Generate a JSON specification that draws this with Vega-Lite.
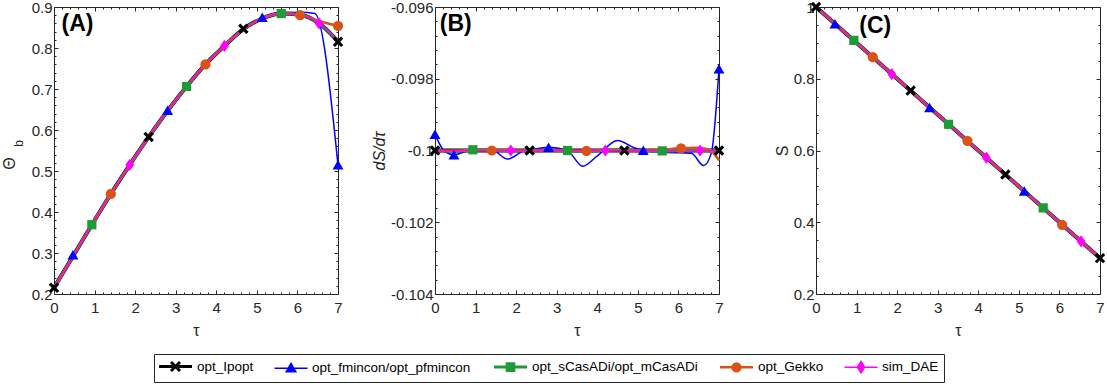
{
  "$schema": "https://vega.github.io/schema/vega-lite/v6.json",
  "background": "white",
  "padding": {"left": 0, "top": -2, "right": 0, "bottom": 0},
  "bounds": "flush",
  "spacing": 97,
  "config": {
    "font": "Liberation Sans",
    "view": {"stroke": "#262626", "strokeWidth": 1},
    "axis": {
      "domain": false, "grid": false, "ticks": true, "tickColor": "#262626", "tickWidth": 1,
      "labelFont": "Liberation Sans", "labelFontSize": 15, "labelColor": "#262626",
      "titleFont": "Liberation Sans", "titleFontSize": 16, "titleFontWeight": "normal", "titleColor": "#262626",
      "labelOverlap": false, "labelFlush": false, "labelBound": false
    },
    "legend": {"orient": "none", "legendX": 100, "legendY": 347, "direction": "horizontal", "symbolSize": 144, "symbolStrokeWidth": 2.5, "labelOffset": 23, "columnPadding": 17, "padding": 5, "strokeColor": "#262626", "fillColor": "#ffffff", "labelFont": "Liberation Sans", "labelFontSize": 13.5, "labelColor": "#000000", "labelLimit": 400, "symbolOpacity": 1}
  },
  "datasets": {
    "lA": [
      {"s":"opt_Ipopt","t":0,"v":0.215},{"s":"opt_Ipopt","t":0.467,"v":0.292},{"s":"opt_Ipopt","t":0.933,"v":0.369},{"s":"opt_Ipopt","t":1.4,"v":0.444},{"s":"opt_Ipopt","t":1.867,"v":0.515},{"s":"opt_Ipopt","t":2.333,"v":0.583},{"s":"opt_Ipopt","t":2.8,"v":0.647},{"s":"opt_Ipopt","t":3.267,"v":0.706},{"s":"opt_Ipopt","t":3.733,"v":0.76},{"s":"opt_Ipopt","t":4.2,"v":0.805},{"s":"opt_Ipopt","t":4.667,"v":0.846},{"s":"opt_Ipopt","t":5.133,"v":0.872},{"s":"opt_Ipopt","t":5.6,"v":0.884},{"s":"opt_Ipopt","t":6.067,"v":0.881},{"s":"opt_Ipopt","t":6.533,"v":0.86},{"s":"opt_Ipopt","t":7,"v":0.816},
      {"s":"opt_fmincon/opt_pfmincon","t":0,"v":0.215},{"s":"opt_fmincon/opt_pfmincon","t":0.467,"v":0.292},{"s":"opt_fmincon/opt_pfmincon","t":0.933,"v":0.369},{"s":"opt_fmincon/opt_pfmincon","t":1.4,"v":0.444},{"s":"opt_fmincon/opt_pfmincon","t":1.867,"v":0.515},{"s":"opt_fmincon/opt_pfmincon","t":2.333,"v":0.583},{"s":"opt_fmincon/opt_pfmincon","t":2.8,"v":0.647},{"s":"opt_fmincon/opt_pfmincon","t":3.267,"v":0.706},{"s":"opt_fmincon/opt_pfmincon","t":3.733,"v":0.76},{"s":"opt_fmincon/opt_pfmincon","t":4.2,"v":0.805},{"s":"opt_fmincon/opt_pfmincon","t":4.667,"v":0.846},{"s":"opt_fmincon/opt_pfmincon","t":5.133,"v":0.873},{"s":"opt_fmincon/opt_pfmincon","t":5.6,"v":0.886},{"s":"opt_fmincon/opt_pfmincon","t":6.067,"v":0.887},{"s":"opt_fmincon/opt_pfmincon","t":6.43,"v":0.884},{"s":"opt_fmincon/opt_pfmincon","t":7,"v":0.515},
      {"s":"opt_sCasADi/opt_mCasADi","t":0,"v":0.215},{"s":"opt_sCasADi/opt_mCasADi","t":0.467,"v":0.292},{"s":"opt_sCasADi/opt_mCasADi","t":0.933,"v":0.369},{"s":"opt_sCasADi/opt_mCasADi","t":1.4,"v":0.444},{"s":"opt_sCasADi/opt_mCasADi","t":1.867,"v":0.515},{"s":"opt_sCasADi/opt_mCasADi","t":2.333,"v":0.583},{"s":"opt_sCasADi/opt_mCasADi","t":2.8,"v":0.647},{"s":"opt_sCasADi/opt_mCasADi","t":3.267,"v":0.706},{"s":"opt_sCasADi/opt_mCasADi","t":3.733,"v":0.76},{"s":"opt_sCasADi/opt_mCasADi","t":4.2,"v":0.805},{"s":"opt_sCasADi/opt_mCasADi","t":4.667,"v":0.846},{"s":"opt_sCasADi/opt_mCasADi","t":5.133,"v":0.872},{"s":"opt_sCasADi/opt_mCasADi","t":5.6,"v":0.884},{"s":"opt_sCasADi/opt_mCasADi","t":6.067,"v":0.881},{"s":"opt_sCasADi/opt_mCasADi","t":6.533,"v":0.86},{"s":"opt_sCasADi/opt_mCasADi","t":7,"v":0.817},
      {"s":"opt_Gekko","t":0,"v":0.215},{"s":"opt_Gekko","t":0.467,"v":0.292},{"s":"opt_Gekko","t":0.933,"v":0.369},{"s":"opt_Gekko","t":1.4,"v":0.444},{"s":"opt_Gekko","t":1.867,"v":0.515},{"s":"opt_Gekko","t":2.333,"v":0.583},{"s":"opt_Gekko","t":2.8,"v":0.647},{"s":"opt_Gekko","t":3.267,"v":0.706},{"s":"opt_Gekko","t":3.733,"v":0.76},{"s":"opt_Gekko","t":4.2,"v":0.805},{"s":"opt_Gekko","t":4.667,"v":0.846},{"s":"opt_Gekko","t":5.133,"v":0.872},{"s":"opt_Gekko","t":5.6,"v":0.884},{"s":"opt_Gekko","t":6.067,"v":0.881},{"s":"opt_Gekko","t":6.533,"v":0.866},{"s":"opt_Gekko","t":7,"v":0.854},
      {"s":"sim_DAE","t":0,"v":0.215},{"s":"sim_DAE","t":0.467,"v":0.292},{"s":"sim_DAE","t":0.933,"v":0.369},{"s":"sim_DAE","t":1.4,"v":0.444},{"s":"sim_DAE","t":1.867,"v":0.515},{"s":"sim_DAE","t":2.333,"v":0.583},{"s":"sim_DAE","t":2.8,"v":0.647},{"s":"sim_DAE","t":3.267,"v":0.706},{"s":"sim_DAE","t":3.733,"v":0.76},{"s":"sim_DAE","t":4.2,"v":0.805},{"s":"sim_DAE","t":4.667,"v":0.846},{"s":"sim_DAE","t":5.133,"v":0.872},{"s":"sim_DAE","t":5.6,"v":0.884},{"s":"sim_DAE","t":6.067,"v":0.881},{"s":"sim_DAE","t":6.533,"v":0.86},{"s":"sim_DAE","t":7,"v":0.817}
    ],
    "mA": [
      {"s":"opt_Ipopt","t":0,"v":0.215},{"s":"opt_Ipopt","t":2.333,"v":0.583},{"s":"opt_Ipopt","t":4.667,"v":0.847},{"s":"opt_Ipopt","t":7,"v":0.815},
      {"s":"opt_fmincon/opt_pfmincon","t":0.467,"v":0.296},{"s":"opt_fmincon/opt_pfmincon","t":2.8,"v":0.648},{"s":"opt_fmincon/opt_pfmincon","t":5.133,"v":0.875},{"s":"opt_fmincon/opt_pfmincon","t":7,"v":0.515},
      {"s":"opt_sCasADi/opt_mCasADi","t":0.933,"v":0.369},{"s":"opt_sCasADi/opt_mCasADi","t":3.267,"v":0.706},{"s":"opt_sCasADi/opt_mCasADi","t":5.6,"v":0.884},
      {"s":"opt_Gekko","t":1.4,"v":0.444},{"s":"opt_Gekko","t":3.733,"v":0.76},{"s":"opt_Gekko","t":6.067,"v":0.88},{"s":"opt_Gekko","t":7,"v":0.854},
      {"s":"sim_DAE","t":1.867,"v":0.515},{"s":"sim_DAE","t":4.2,"v":0.805},{"s":"sim_DAE","t":6.533,"v":0.86}
    ],
    "lB": [
      {"s":"opt_Ipopt","t":0,"v":-0.1},{"s":"opt_Ipopt","t":7,"v":-0.1},
      {"s":"opt_fmincon/opt_pfmincon","t":0,"v":-0.09955},{"s":"opt_fmincon/opt_pfmincon","t":0.25,"v":-0.10004},{"s":"opt_fmincon/opt_pfmincon","t":0.467,"v":-0.10012},{"s":"opt_fmincon/opt_pfmincon","t":0.75,"v":-0.10003},{"s":"opt_fmincon/opt_pfmincon","t":1.0,"v":-0.09997},{"s":"opt_fmincon/opt_pfmincon","t":1.4,"v":-0.09998},{"s":"opt_fmincon/opt_pfmincon","t":1.79,"v":-0.10024},{"s":"opt_fmincon/opt_pfmincon","t":2.2,"v":-0.1},{"s":"opt_fmincon/opt_pfmincon","t":2.5,"v":-0.09995},{"s":"opt_fmincon/opt_pfmincon","t":2.83,"v":-0.09991},{"s":"opt_fmincon/opt_pfmincon","t":3.27,"v":-0.10001},{"s":"opt_fmincon/opt_pfmincon","t":3.64,"v":-0.10044},{"s":"opt_fmincon/opt_pfmincon","t":4.0,"v":-0.10015},{"s":"opt_fmincon/opt_pfmincon","t":4.5,"v":-0.09972},{"s":"opt_fmincon/opt_pfmincon","t":4.92,"v":-0.09993},{"s":"opt_fmincon/opt_pfmincon","t":5.16,"v":-0.09999},{"s":"opt_fmincon/opt_pfmincon","t":5.66,"v":-0.10005},{"s":"opt_fmincon/opt_pfmincon","t":6.32,"v":-0.10008},{"s":"opt_fmincon/opt_pfmincon","t":6.62,"v":-0.10042},{"s":"opt_fmincon/opt_pfmincon","t":6.81,"v":-0.10008},{"s":"opt_fmincon/opt_pfmincon","t":7,"v":-0.09772},
      {"s":"opt_sCasADi/opt_mCasADi","t":0,"v":-0.1},{"s":"opt_sCasADi/opt_mCasADi","t":0.5,"v":-0.10002},{"s":"opt_sCasADi/opt_mCasADi","t":1,"v":-0.09998},{"s":"opt_sCasADi/opt_mCasADi","t":1.5,"v":-0.09999},{"s":"opt_sCasADi/opt_mCasADi","t":2,"v":-0.10001},{"s":"opt_sCasADi/opt_mCasADi","t":2.5,"v":-0.09999},{"s":"opt_sCasADi/opt_mCasADi","t":3,"v":-0.1},{"s":"opt_sCasADi/opt_mCasADi","t":3.5,"v":-0.10002},{"s":"opt_sCasADi/opt_mCasADi","t":4,"v":-0.10001},{"s":"opt_sCasADi/opt_mCasADi","t":4.5,"v":-0.09998},{"s":"opt_sCasADi/opt_mCasADi","t":5,"v":-0.1},{"s":"opt_sCasADi/opt_mCasADi","t":5.5,"v":-0.10002},{"s":"opt_sCasADi/opt_mCasADi","t":6,"v":-0.10001},{"s":"opt_sCasADi/opt_mCasADi","t":6.5,"v":-0.09999},{"s":"opt_sCasADi/opt_mCasADi","t":7,"v":-0.10001},
      {"s":"opt_Gekko","t":0,"v":-0.10002},{"s":"opt_Gekko","t":0.5,"v":-0.10001},{"s":"opt_Gekko","t":1,"v":-0.1},{"s":"opt_Gekko","t":1.5,"v":-0.09999},{"s":"opt_Gekko","t":2,"v":-0.10001},{"s":"opt_Gekko","t":2.5,"v":-0.1},{"s":"opt_Gekko","t":3,"v":-0.1},{"s":"opt_Gekko","t":3.5,"v":-0.10001},{"s":"opt_Gekko","t":4,"v":-0.1},{"s":"opt_Gekko","t":4.5,"v":-0.09999},{"s":"opt_Gekko","t":5,"v":-0.1},{"s":"opt_Gekko","t":5.5,"v":-0.09999},{"s":"opt_Gekko","t":6,"v":-0.09994},{"s":"opt_Gekko","t":6.4,"v":-0.09992},{"s":"opt_Gekko","t":6.7,"v":-0.09996},{"s":"opt_Gekko","t":6.9,"v":-0.10012},{"s":"opt_Gekko","t":7,"v":-0.10027},
      {"s":"sim_DAE","t":0,"v":-0.1},{"s":"sim_DAE","t":7,"v":-0.1}
    ],
    "mB": [
      {"s":"opt_Ipopt","t":0,"v":-0.1},{"s":"opt_Ipopt","t":2.333,"v":-0.1},{"s":"opt_Ipopt","t":4.667,"v":-0.1},{"s":"opt_Ipopt","t":7,"v":-0.1},
      {"s":"opt_fmincon/opt_pfmincon","t":0,"v":-0.09955},{"s":"opt_fmincon/opt_pfmincon","t":0.467,"v":-0.10012},{"s":"opt_fmincon/opt_pfmincon","t":2.8,"v":-0.09991},{"s":"opt_fmincon/opt_pfmincon","t":5.133,"v":-0.09999},{"s":"opt_fmincon/opt_pfmincon","t":7,"v":-0.09772},
      {"s":"opt_sCasADi/opt_mCasADi","t":0.933,"v":-0.09998},{"s":"opt_sCasADi/opt_mCasADi","t":3.267,"v":-0.1},{"s":"opt_sCasADi/opt_mCasADi","t":5.6,"v":-0.10001},
      {"s":"opt_Gekko","t":1.4,"v":-0.1},{"s":"opt_Gekko","t":3.733,"v":-0.10001},{"s":"opt_Gekko","t":6.067,"v":-0.09994},
      {"s":"sim_DAE","t":1.867,"v":-0.1},{"s":"sim_DAE","t":4.2,"v":-0.1},{"s":"sim_DAE","t":6.533,"v":-0.1}
    ],
    "lC": [
      {"s":"opt_Ipopt","t":0,"v":1},{"s":"opt_Ipopt","t":7,"v":0.3},
      {"s":"opt_fmincon/opt_pfmincon","t":0,"v":1},{"s":"opt_fmincon/opt_pfmincon","t":7,"v":0.3},
      {"s":"opt_sCasADi/opt_mCasADi","t":0,"v":1},{"s":"opt_sCasADi/opt_mCasADi","t":7,"v":0.3},
      {"s":"opt_Gekko","t":0,"v":1},{"s":"opt_Gekko","t":7,"v":0.3},
      {"s":"sim_DAE","t":0,"v":1},{"s":"sim_DAE","t":7,"v":0.3}
    ],
    "mC": [
      {"s":"opt_Ipopt","t":0,"v":1},{"s":"opt_Ipopt","t":2.333,"v":0.767},{"s":"opt_Ipopt","t":4.667,"v":0.533},{"s":"opt_Ipopt","t":7,"v":0.3},
      {"s":"opt_fmincon/opt_pfmincon","t":0.467,"v":0.953},{"s":"opt_fmincon/opt_pfmincon","t":2.8,"v":0.72},{"s":"opt_fmincon/opt_pfmincon","t":5.133,"v":0.487},
      {"s":"opt_sCasADi/opt_mCasADi","t":0.933,"v":0.907},{"s":"opt_sCasADi/opt_mCasADi","t":3.267,"v":0.673},{"s":"opt_sCasADi/opt_mCasADi","t":5.6,"v":0.44},
      {"s":"opt_Gekko","t":1.4,"v":0.86},{"s":"opt_Gekko","t":3.733,"v":0.627},{"s":"opt_Gekko","t":6.067,"v":0.393},
      {"s":"sim_DAE","t":1.867,"v":0.813},{"s":"sim_DAE","t":4.2,"v":0.58},{"s":"sim_DAE","t":6.533,"v":0.347}
    ],
    "legendRows": [
      {"s":"opt_Ipopt","t":50,"v":0.5},{"s":"opt_fmincon/opt_pfmincon","t":50,"v":0.5},{"s":"opt_sCasADi/opt_mCasADi","t":50,"v":0.5},{"s":"opt_Gekko","t":50,"v":0.5},{"s":"sim_DAE","t":50,"v":0.5}
    ]
  },
  "hconcat": [
    {
      "width": 284, "height": 287,
      "resolve": {"axis": {"x": "independent", "y": "independent"}},
      "layer": [
        {"data": {"name": "lA"}, "transform": [{"filter": "datum.s === 'opt_Ipopt'"}],
         "mark": {"type": "line", "interpolate": "monotone", "strokeWidth": 4},
         "encoding": {
           "x": {"field": "t", "type": "quantitative", "scale": {"domain": [0, 7], "nice": false, "zero": false}, "axis": {"orient": "bottom", "values": [0,1,2,3,4,5,6,7], "format": "d", "tickSize": -4, "labelPadding": 10, "title": "τ", "titlePadding": 7}},
           "y": {"field": "v", "type": "quantitative", "scale": {"domain": [0.2, 0.9], "nice": false, "zero": false}, "axis": {"orient": "left", "values": [0.2,0.3,0.4,0.5,0.6,0.7,0.8,0.9], "format": ".1f", "tickSize": -4, "labelPadding": 6, "title": "Θ", "titlePadding": 14, "titleY": 156}},
           "stroke": {"field": "s", "type": "nominal", "scale": {"domain": ["opt_Ipopt","opt_fmincon/opt_pfmincon","opt_sCasADi/opt_mCasADi","opt_Gekko","sim_DAE"], "range": ["#000000","#0000ff","#1e9b37","#d95319","#ff00ff"]}, "legend": {"title": null}}}},
        {"data": {"name": "lA"}, "transform": [{"filter": "datum.s === 'opt_fmincon/opt_pfmincon'"}],
         "mark": {"type": "line", "interpolate": "monotone", "strokeWidth": 1.5},
         "encoding": {
           "x": {"field": "t", "type": "quantitative", "axis": {"orient": "bottom", "values": [0.2,0.4,0.6,0.8,1.2,1.4,1.6,1.8,2.2,2.4,2.6,2.8,3.2,3.4,3.6,3.8,4.2,4.4,4.6,4.8,5.2,5.4,5.6,5.8,6.2,6.4,6.6,6.8], "labels": false, "tickSize": -2, "title": null}},
           "y": {"field": "v", "type": "quantitative", "axis": {"orient": "left", "values": [0.22,0.24,0.26,0.28,0.32,0.34,0.36,0.38,0.42,0.44,0.46,0.48,0.52,0.54,0.56,0.58,0.62,0.64,0.66,0.68,0.72,0.74,0.76,0.78,0.82,0.84,0.86,0.88], "labels": false, "tickSize": -2, "title": null}},
           "stroke": {"field": "s", "type": "nominal", "scale": {"domain": ["opt_Ipopt","opt_fmincon/opt_pfmincon","opt_sCasADi/opt_mCasADi","opt_Gekko","sim_DAE"], "range": ["#000000","#0000ff","#1e9b37","#d95319","#ff00ff"]}, "legend": {"title": null}}}},
        {"data": {"name": "lA"}, "transform": [{"filter": "datum.s === 'opt_sCasADi/opt_mCasADi'"}],
         "mark": {"type": "line", "interpolate": "monotone", "strokeWidth": 3},
         "encoding": {
           "x": {"field": "t", "type": "quantitative", "axis": {"orient": "top", "values": [0,1,2,3,4,5,6,7], "labels": false, "tickSize": -4, "title": null}},
           "y": {"field": "v", "type": "quantitative", "axis": {"orient": "right", "values": [0.2,0.3,0.4,0.5,0.6,0.7,0.8,0.9], "labels": false, "tickSize": -4, "title": null}},
           "stroke": {"field": "s", "type": "nominal", "scale": {"domain": ["opt_Ipopt","opt_fmincon/opt_pfmincon","opt_sCasADi/opt_mCasADi","opt_Gekko","sim_DAE"], "range": ["#000000","#0000ff","#1e9b37","#d95319","#ff00ff"]}, "legend": {"title": null}}}},
        {"data": {"name": "lA"}, "transform": [{"filter": "datum.s === 'opt_Gekko'"}],
         "mark": {"type": "line", "interpolate": "monotone", "strokeWidth": 2.5},
         "encoding": {
           "x": {"field": "t", "type": "quantitative", "axis": {"orient": "top", "values": [0.2,0.4,0.6,0.8,1.2,1.4,1.6,1.8,2.2,2.4,2.6,2.8,3.2,3.4,3.6,3.8,4.2,4.4,4.6,4.8,5.2,5.4,5.6,5.8,6.2,6.4,6.6,6.8], "labels": false, "tickSize": -2, "title": null}},
           "y": {"field": "v", "type": "quantitative", "axis": {"orient": "right", "values": [0.22,0.24,0.26,0.28,0.32,0.34,0.36,0.38,0.42,0.44,0.46,0.48,0.52,0.54,0.56,0.58,0.62,0.64,0.66,0.68,0.72,0.74,0.76,0.78,0.82,0.84,0.86,0.88], "labels": false, "tickSize": -2, "title": null}},
           "stroke": {"field": "s", "type": "nominal", "scale": {"domain": ["opt_Ipopt","opt_fmincon/opt_pfmincon","opt_sCasADi/opt_mCasADi","opt_Gekko","sim_DAE"], "range": ["#000000","#0000ff","#1e9b37","#d95319","#ff00ff"]}, "legend": {"title": null}}}},
        {"data": {"name": "lA"}, "transform": [{"filter": "datum.s === 'sim_DAE'"}],
         "mark": {"type": "line", "interpolate": "monotone", "strokeWidth": 1.5},
         "encoding": {
           "x": {"field": "t", "type": "quantitative", "axis": null},
           "y": {"field": "v", "type": "quantitative", "axis": null},
           "stroke": {"field": "s", "type": "nominal", "scale": {"domain": ["opt_Ipopt","opt_fmincon/opt_pfmincon","opt_sCasADi/opt_mCasADi","opt_Gekko","sim_DAE"], "range": ["#000000","#0000ff","#1e9b37","#d95319","#ff00ff"]}, "legend": {"title": null}}}},
        {"data": {"name": "mA"}, "transform": [{"filter": "datum.s === 'opt_Ipopt'"}],
         "mark": {"type": "point", "shape": "M-1,-0.58L-0.58,-1L0,-0.42L0.58,-1L1,-0.58L0.42,0L1,0.58L0.58,1L0,0.42L-0.58,1L-1,0.58L-0.42,0Z", "filled": true, "size": 110, "opacity": 1},
         "encoding": {
           "x": {"field": "t", "type": "quantitative", "axis": null},
           "y": {"field": "v", "type": "quantitative", "axis": null},
           "fill": {"field": "s", "type": "nominal", "scale": {"domain": ["opt_Ipopt","opt_fmincon/opt_pfmincon","opt_sCasADi/opt_mCasADi","opt_Gekko","sim_DAE"], "range": ["#000000","#0000ff","#1e9b37","#d95319","#ff00ff"]}, "legend": {"title": null}}}},
        {"data": {"name": "mA"}, "transform": [{"filter": "datum.s === 'opt_fmincon/opt_pfmincon'"}],
         "mark": {"type": "point", "shape": "triangle-up", "filled": true, "size": 120, "opacity": 1},
         "encoding": {
           "x": {"field": "t", "type": "quantitative", "axis": null},
           "y": {"field": "v", "type": "quantitative", "axis": null},
           "fill": {"field": "s", "type": "nominal", "scale": {"domain": ["opt_Ipopt","opt_fmincon/opt_pfmincon","opt_sCasADi/opt_mCasADi","opt_Gekko","sim_DAE"], "range": ["#000000","#0000ff","#1e9b37","#d95319","#ff00ff"]}, "legend": {"title": null}}}},
        {"data": {"name": "mA"}, "transform": [{"filter": "datum.s === 'opt_sCasADi/opt_mCasADi'"}],
         "mark": {"type": "point", "shape": "square", "filled": true, "size": 85, "opacity": 1},
         "encoding": {
           "x": {"field": "t", "type": "quantitative", "axis": null},
           "y": {"field": "v", "type": "quantitative", "axis": null},
           "fill": {"field": "s", "type": "nominal", "scale": {"domain": ["opt_Ipopt","opt_fmincon/opt_pfmincon","opt_sCasADi/opt_mCasADi","opt_Gekko","sim_DAE"], "range": ["#000000","#0000ff","#1e9b37","#d95319","#ff00ff"]}, "legend": {"title": null}}}},
        {"data": {"name": "mA"}, "transform": [{"filter": "datum.s === 'opt_Gekko'"}],
         "mark": {"type": "point", "shape": "circle", "filled": true, "size": 105, "opacity": 1},
         "encoding": {
           "x": {"field": "t", "type": "quantitative", "axis": null},
           "y": {"field": "v", "type": "quantitative", "axis": null},
           "fill": {"field": "s", "type": "nominal", "scale": {"domain": ["opt_Ipopt","opt_fmincon/opt_pfmincon","opt_sCasADi/opt_mCasADi","opt_Gekko","sim_DAE"], "range": ["#000000","#0000ff","#1e9b37","#d95319","#ff00ff"]}, "legend": {"title": null}}}},
        {"data": {"name": "mA"}, "transform": [{"filter": "datum.s === 'sim_DAE'"}],
         "mark": {"type": "point", "shape": "M0,-1L0.72,0L0,1L-0.72,0Z", "filled": true, "size": 150, "opacity": 1},
         "encoding": {
           "x": {"field": "t", "type": "quantitative", "axis": null},
           "y": {"field": "v", "type": "quantitative", "axis": null},
           "fill": {"field": "s", "type": "nominal", "scale": {"domain": ["opt_Ipopt","opt_fmincon/opt_pfmincon","opt_sCasADi/opt_mCasADi","opt_Gekko","sim_DAE"], "range": ["#000000","#0000ff","#1e9b37","#d95319","#ff00ff"]}, "legend": {"title": null}}}},
        {"data": {"values": [{"label": "(A)", "t": 0.58, "v": 0.858}]},
         "mark": {"type": "text", "font": "Liberation Sans", "fontSize": 23, "fontWeight": "bold", "color": "#000000", "align": "center", "baseline": "middle"},
         "encoding": {
           "x": {"field": "t", "type": "quantitative", "axis": null},
           "y": {"field": "v", "type": "quantitative", "axis": null},
           "text": {"field": "label"}}},
        {"data": {"values": [{"label": "b", "t": -0.875, "v": 0.567}]},
         "mark": {"type": "text", "font": "Liberation Sans", "fontSize": 12, "color": "#262626", "align": "center", "baseline": "middle", "angle": 270},
         "encoding": {
           "x": {"field": "t", "type": "quantitative", "axis": null},
           "y": {"field": "v", "type": "quantitative", "axis": null},
           "text": {"field": "label"}}},
        {"data": {"name": "legendRows"},
         "mark": {"type": "point", "filled": true, "clip": true, "opacity": 1},
         "encoding": {
           "x": {"field": "t", "type": "quantitative", "axis": null},
           "y": {"field": "v", "type": "quantitative", "axis": null},
           "fill": {"field": "s", "type": "nominal", "scale": {"domain": ["opt_Ipopt","opt_fmincon/opt_pfmincon","opt_sCasADi/opt_mCasADi","opt_Gekko","sim_DAE"], "range": ["#000000","#0000ff","#1e9b37","#d95319","#ff00ff"]}, "legend": {"title": null}},
           "stroke": {"field": "s", "type": "nominal", "scale": {"domain": ["opt_Ipopt","opt_fmincon/opt_pfmincon","opt_sCasADi/opt_mCasADi","opt_Gekko","sim_DAE"], "range": ["#000000","#0000ff","#1e9b37","#d95319","#ff00ff"]}, "legend": {"title": null}},
           "strokeWidth": {"field": "s", "type": "nominal", "scale": {"type": "ordinal", "domain": ["opt_Ipopt","opt_fmincon/opt_pfmincon","opt_sCasADi/opt_mCasADi","opt_Gekko","sim_DAE"], "range": [3, 1.5, 3, 2.5, 1.5]}, "legend": {"title": null}},
           "shape": {"field": "s", "type": "nominal", "scale": {"domain": ["opt_Ipopt","opt_fmincon/opt_pfmincon","opt_sCasADi/opt_mCasADi","opt_Gekko","sim_DAE"], "range": ["M-1.25,0H4.25M0.75,-0.75L2.25,0.75M0.75,0.75L2.25,-0.75", "M-1.25,0H4.25M1.5,-0.8L2.3,0.6L0.7,0.6Z", "M-1.25,0H4.25M0.95,-0.55H2.05V0.55H0.95Z", "M-1.25,0H4.25M2.15,0A0.65,0.65,0,1,1,0.85,0A0.65,0.65,0,1,1,2.15,0Z", "M-1.25,0H4.25M1.5,-0.95L2.1,0L1.5,0.95L0.9,0Z"]}, "legend": {"title": null}}}}
      ]
    },
    {
      "width": 284, "height": 287,
      "resolve": {"axis": {"x": "independent", "y": "independent"}},
      "layer": [
        {"data": {"name": "lB"}, "transform": [{"filter": "datum.s === 'opt_Ipopt'"}],
         "mark": {"type": "line", "interpolate": "monotone", "strokeWidth": 4},
         "encoding": {
           "x": {"field": "t", "type": "quantitative", "scale": {"domain": [0, 7], "nice": false, "zero": false}, "axis": {"orient": "bottom", "values": [0,1,2,3,4,5,6,7], "format": "d", "tickSize": -4, "labelPadding": 10, "title": "τ", "titlePadding": 7}},
           "y": {"field": "v", "type": "quantitative", "scale": {"domain": [-0.104, -0.096], "nice": false, "zero": false}, "axis": {"orient": "left", "values": [-0.104,-0.102,-0.1,-0.098,-0.096], "format": "~g", "labelExpr": "replace(datum.label, '−', '-')", "tickSize": -4, "labelPadding": 6, "title": "dS/dτ", "titleFontStyle": "italic", "titlePadding": 3}},
           "stroke": {"field": "s", "type": "nominal", "scale": {"domain": ["opt_Ipopt","opt_fmincon/opt_pfmincon","opt_sCasADi/opt_mCasADi","opt_Gekko","sim_DAE"], "range": ["#000000","#0000ff","#1e9b37","#d95319","#ff00ff"]}, "legend": {"title": null}}}},
        {"data": {"name": "lB"}, "transform": [{"filter": "datum.s === 'opt_fmincon/opt_pfmincon'"}],
         "mark": {"type": "line", "interpolate": "monotone", "strokeWidth": 1.5},
         "encoding": {
           "x": {"field": "t", "type": "quantitative", "axis": {"orient": "bottom", "values": [0.2,0.4,0.6,0.8,1.2,1.4,1.6,1.8,2.2,2.4,2.6,2.8,3.2,3.4,3.6,3.8,4.2,4.4,4.6,4.8,5.2,5.4,5.6,5.8,6.2,6.4,6.6,6.8], "labels": false, "tickSize": -2, "title": null}},
           "y": {"field": "v", "type": "quantitative", "axis": {"orient": "left", "values": [-0.1036,-0.1032,-0.1028,-0.1024,-0.1016,-0.1012,-0.1008,-0.1004,-0.0996,-0.0992,-0.0988,-0.0984,-0.0976,-0.0972,-0.0968,-0.0964], "labels": false, "tickSize": -2, "title": null}},
           "stroke": {"field": "s", "type": "nominal", "scale": {"domain": ["opt_Ipopt","opt_fmincon/opt_pfmincon","opt_sCasADi/opt_mCasADi","opt_Gekko","sim_DAE"], "range": ["#000000","#0000ff","#1e9b37","#d95319","#ff00ff"]}, "legend": {"title": null}}}},
        {"data": {"name": "lB"}, "transform": [{"filter": "datum.s === 'opt_sCasADi/opt_mCasADi'"}],
         "mark": {"type": "line", "interpolate": "monotone", "strokeWidth": 3},
         "encoding": {
           "x": {"field": "t", "type": "quantitative", "axis": {"orient": "top", "values": [0,1,2,3,4,5,6,7], "labels": false, "tickSize": -4, "title": null}},
           "y": {"field": "v", "type": "quantitative", "axis": {"orient": "right", "values": [-0.104,-0.102,-0.1,-0.098,-0.096], "labels": false, "tickSize": -4, "title": null}},
           "stroke": {"field": "s", "type": "nominal", "scale": {"domain": ["opt_Ipopt","opt_fmincon/opt_pfmincon","opt_sCasADi/opt_mCasADi","opt_Gekko","sim_DAE"], "range": ["#000000","#0000ff","#1e9b37","#d95319","#ff00ff"]}, "legend": {"title": null}}}},
        {"data": {"name": "lB"}, "transform": [{"filter": "datum.s === 'opt_Gekko'"}],
         "mark": {"type": "line", "interpolate": "monotone", "strokeWidth": 2.5},
         "encoding": {
           "x": {"field": "t", "type": "quantitative", "axis": {"orient": "top", "values": [0.2,0.4,0.6,0.8,1.2,1.4,1.6,1.8,2.2,2.4,2.6,2.8,3.2,3.4,3.6,3.8,4.2,4.4,4.6,4.8,5.2,5.4,5.6,5.8,6.2,6.4,6.6,6.8], "labels": false, "tickSize": -2, "title": null}},
           "y": {"field": "v", "type": "quantitative", "axis": {"orient": "right", "values": [-0.1036,-0.1032,-0.1028,-0.1024,-0.1016,-0.1012,-0.1008,-0.1004,-0.0996,-0.0992,-0.0988,-0.0984,-0.0976,-0.0972,-0.0968,-0.0964], "labels": false, "tickSize": -2, "title": null}},
           "stroke": {"field": "s", "type": "nominal", "scale": {"domain": ["opt_Ipopt","opt_fmincon/opt_pfmincon","opt_sCasADi/opt_mCasADi","opt_Gekko","sim_DAE"], "range": ["#000000","#0000ff","#1e9b37","#d95319","#ff00ff"]}, "legend": {"title": null}}}},
        {"data": {"name": "lB"}, "transform": [{"filter": "datum.s === 'sim_DAE'"}],
         "mark": {"type": "line", "interpolate": "monotone", "strokeWidth": 1.5},
         "encoding": {
           "x": {"field": "t", "type": "quantitative", "axis": null},
           "y": {"field": "v", "type": "quantitative", "axis": null},
           "stroke": {"field": "s", "type": "nominal", "scale": {"domain": ["opt_Ipopt","opt_fmincon/opt_pfmincon","opt_sCasADi/opt_mCasADi","opt_Gekko","sim_DAE"], "range": ["#000000","#0000ff","#1e9b37","#d95319","#ff00ff"]}, "legend": {"title": null}}}},
        {"data": {"name": "mB"}, "transform": [{"filter": "datum.s === 'opt_Ipopt'"}],
         "mark": {"type": "point", "shape": "M-1,-0.58L-0.58,-1L0,-0.42L0.58,-1L1,-0.58L0.42,0L1,0.58L0.58,1L0,0.42L-0.58,1L-1,0.58L-0.42,0Z", "filled": true, "size": 110, "opacity": 1},
         "encoding": {
           "x": {"field": "t", "type": "quantitative", "axis": null},
           "y": {"field": "v", "type": "quantitative", "axis": null},
           "fill": {"field": "s", "type": "nominal", "scale": {"domain": ["opt_Ipopt","opt_fmincon/opt_pfmincon","opt_sCasADi/opt_mCasADi","opt_Gekko","sim_DAE"], "range": ["#000000","#0000ff","#1e9b37","#d95319","#ff00ff"]}, "legend": {"title": null}}}},
        {"data": {"name": "mB"}, "transform": [{"filter": "datum.s === 'opt_fmincon/opt_pfmincon'"}],
         "mark": {"type": "point", "shape": "triangle-up", "filled": true, "size": 120, "opacity": 1},
         "encoding": {
           "x": {"field": "t", "type": "quantitative", "axis": null},
           "y": {"field": "v", "type": "quantitative", "axis": null},
           "fill": {"field": "s", "type": "nominal", "scale": {"domain": ["opt_Ipopt","opt_fmincon/opt_pfmincon","opt_sCasADi/opt_mCasADi","opt_Gekko","sim_DAE"], "range": ["#000000","#0000ff","#1e9b37","#d95319","#ff00ff"]}, "legend": {"title": null}}}},
        {"data": {"name": "mB"}, "transform": [{"filter": "datum.s === 'opt_sCasADi/opt_mCasADi'"}],
         "mark": {"type": "point", "shape": "square", "filled": true, "size": 85, "opacity": 1},
         "encoding": {
           "x": {"field": "t", "type": "quantitative", "axis": null},
           "y": {"field": "v", "type": "quantitative", "axis": null},
           "fill": {"field": "s", "type": "nominal", "scale": {"domain": ["opt_Ipopt","opt_fmincon/opt_pfmincon","opt_sCasADi/opt_mCasADi","opt_Gekko","sim_DAE"], "range": ["#000000","#0000ff","#1e9b37","#d95319","#ff00ff"]}, "legend": {"title": null}}}},
        {"data": {"name": "mB"}, "transform": [{"filter": "datum.s === 'opt_Gekko'"}],
         "mark": {"type": "point", "shape": "circle", "filled": true, "size": 105, "opacity": 1},
         "encoding": {
           "x": {"field": "t", "type": "quantitative", "axis": null},
           "y": {"field": "v", "type": "quantitative", "axis": null},
           "fill": {"field": "s", "type": "nominal", "scale": {"domain": ["opt_Ipopt","opt_fmincon/opt_pfmincon","opt_sCasADi/opt_mCasADi","opt_Gekko","sim_DAE"], "range": ["#000000","#0000ff","#1e9b37","#d95319","#ff00ff"]}, "legend": {"title": null}}}},
        {"data": {"name": "mB"}, "transform": [{"filter": "datum.s === 'sim_DAE'"}],
         "mark": {"type": "point", "shape": "M0,-1L0.72,0L0,1L-0.72,0Z", "filled": true, "size": 150, "opacity": 1},
         "encoding": {
           "x": {"field": "t", "type": "quantitative", "axis": null},
           "y": {"field": "v", "type": "quantitative", "axis": null},
           "fill": {"field": "s", "type": "nominal", "scale": {"domain": ["opt_Ipopt","opt_fmincon/opt_pfmincon","opt_sCasADi/opt_mCasADi","opt_Gekko","sim_DAE"], "range": ["#000000","#0000ff","#1e9b37","#d95319","#ff00ff"]}, "legend": {"title": null}}}},
        {"data": {"values": [{"label": "(B)", "t": 0.51, "v": -0.09647}]},
         "mark": {"type": "text", "font": "Liberation Sans", "fontSize": 23, "fontWeight": "bold", "color": "#000000", "align": "center", "baseline": "middle"},
         "encoding": {
           "x": {"field": "t", "type": "quantitative", "axis": null},
           "y": {"field": "v", "type": "quantitative", "axis": null},
           "text": {"field": "label"}}}
      ]
    },
    {
      "width": 284, "height": 287,
      "resolve": {"axis": {"x": "independent", "y": "independent"}},
      "layer": [
        {"data": {"name": "lC"}, "transform": [{"filter": "datum.s === 'opt_Ipopt'"}],
         "mark": {"type": "line", "interpolate": "monotone", "strokeWidth": 4},
         "encoding": {
           "x": {"field": "t", "type": "quantitative", "scale": {"domain": [0, 7], "nice": false, "zero": false}, "axis": {"orient": "bottom", "values": [0,1,2,3,4,5,6,7], "format": "d", "tickSize": -4, "labelPadding": 10, "title": "τ", "titlePadding": 7}},
           "y": {"field": "v", "type": "quantitative", "scale": {"domain": [0.2, 1], "nice": false, "zero": false}, "axis": {"orient": "left", "values": [0.2,0.4,0.6,0.8,1], "format": "~g", "tickSize": -4, "labelPadding": 6, "title": "S", "titlePadding": 3}},
           "stroke": {"field": "s", "type": "nominal", "scale": {"domain": ["opt_Ipopt","opt_fmincon/opt_pfmincon","opt_sCasADi/opt_mCasADi","opt_Gekko","sim_DAE"], "range": ["#000000","#0000ff","#1e9b37","#d95319","#ff00ff"]}, "legend": {"title": null}}}},
        {"data": {"name": "lC"}, "transform": [{"filter": "datum.s === 'opt_fmincon/opt_pfmincon'"}],
         "mark": {"type": "line", "interpolate": "monotone", "strokeWidth": 1.5},
         "encoding": {
           "x": {"field": "t", "type": "quantitative", "axis": {"orient": "bottom", "values": [0.2,0.4,0.6,0.8,1.2,1.4,1.6,1.8,2.2,2.4,2.6,2.8,3.2,3.4,3.6,3.8,4.2,4.4,4.6,4.8,5.2,5.4,5.6,5.8,6.2,6.4,6.6,6.8], "labels": false, "tickSize": -2, "title": null}},
           "y": {"field": "v", "type": "quantitative", "axis": {"orient": "left", "values": [0.25,0.3,0.35,0.45,0.5,0.55,0.65,0.7,0.75,0.85,0.9,0.95], "labels": false, "tickSize": -2, "title": null}},
           "stroke": {"field": "s", "type": "nominal", "scale": {"domain": ["opt_Ipopt","opt_fmincon/opt_pfmincon","opt_sCasADi/opt_mCasADi","opt_Gekko","sim_DAE"], "range": ["#000000","#0000ff","#1e9b37","#d95319","#ff00ff"]}, "legend": {"title": null}}}},
        {"data": {"name": "lC"}, "transform": [{"filter": "datum.s === 'opt_sCasADi/opt_mCasADi'"}],
         "mark": {"type": "line", "interpolate": "monotone", "strokeWidth": 3},
         "encoding": {
           "x": {"field": "t", "type": "quantitative", "axis": {"orient": "top", "values": [0,1,2,3,4,5,6,7], "labels": false, "tickSize": -4, "title": null}},
           "y": {"field": "v", "type": "quantitative", "axis": {"orient": "right", "values": [0.2,0.4,0.6,0.8,1], "labels": false, "tickSize": -4, "title": null}},
           "stroke": {"field": "s", "type": "nominal", "scale": {"domain": ["opt_Ipopt","opt_fmincon/opt_pfmincon","opt_sCasADi/opt_mCasADi","opt_Gekko","sim_DAE"], "range": ["#000000","#0000ff","#1e9b37","#d95319","#ff00ff"]}, "legend": {"title": null}}}},
        {"data": {"name": "lC"}, "transform": [{"filter": "datum.s === 'opt_Gekko'"}],
         "mark": {"type": "line", "interpolate": "monotone", "strokeWidth": 2.5},
         "encoding": {
           "x": {"field": "t", "type": "quantitative", "axis": {"orient": "top", "values": [0.2,0.4,0.6,0.8,1.2,1.4,1.6,1.8,2.2,2.4,2.6,2.8,3.2,3.4,3.6,3.8,4.2,4.4,4.6,4.8,5.2,5.4,5.6,5.8,6.2,6.4,6.6,6.8], "labels": false, "tickSize": -2, "title": null}},
           "y": {"field": "v", "type": "quantitative", "axis": {"orient": "right", "values": [0.25,0.3,0.35,0.45,0.5,0.55,0.65,0.7,0.75,0.85,0.9,0.95], "labels": false, "tickSize": -2, "title": null}},
           "stroke": {"field": "s", "type": "nominal", "scale": {"domain": ["opt_Ipopt","opt_fmincon/opt_pfmincon","opt_sCasADi/opt_mCasADi","opt_Gekko","sim_DAE"], "range": ["#000000","#0000ff","#1e9b37","#d95319","#ff00ff"]}, "legend": {"title": null}}}},
        {"data": {"name": "lC"}, "transform": [{"filter": "datum.s === 'sim_DAE'"}],
         "mark": {"type": "line", "interpolate": "monotone", "strokeWidth": 1.5},
         "encoding": {
           "x": {"field": "t", "type": "quantitative", "axis": null},
           "y": {"field": "v", "type": "quantitative", "axis": null},
           "stroke": {"field": "s", "type": "nominal", "scale": {"domain": ["opt_Ipopt","opt_fmincon/opt_pfmincon","opt_sCasADi/opt_mCasADi","opt_Gekko","sim_DAE"], "range": ["#000000","#0000ff","#1e9b37","#d95319","#ff00ff"]}, "legend": {"title": null}}}},
        {"data": {"name": "mC"}, "transform": [{"filter": "datum.s === 'opt_Ipopt'"}],
         "mark": {"type": "point", "shape": "M-1,-0.58L-0.58,-1L0,-0.42L0.58,-1L1,-0.58L0.42,0L1,0.58L0.58,1L0,0.42L-0.58,1L-1,0.58L-0.42,0Z", "filled": true, "size": 110, "opacity": 1},
         "encoding": {
           "x": {"field": "t", "type": "quantitative", "axis": null},
           "y": {"field": "v", "type": "quantitative", "axis": null},
           "fill": {"field": "s", "type": "nominal", "scale": {"domain": ["opt_Ipopt","opt_fmincon/opt_pfmincon","opt_sCasADi/opt_mCasADi","opt_Gekko","sim_DAE"], "range": ["#000000","#0000ff","#1e9b37","#d95319","#ff00ff"]}, "legend": {"title": null}}}},
        {"data": {"name": "mC"}, "transform": [{"filter": "datum.s === 'opt_fmincon/opt_pfmincon'"}],
         "mark": {"type": "point", "shape": "triangle-up", "filled": true, "size": 120, "opacity": 1},
         "encoding": {
           "x": {"field": "t", "type": "quantitative", "axis": null},
           "y": {"field": "v", "type": "quantitative", "axis": null},
           "fill": {"field": "s", "type": "nominal", "scale": {"domain": ["opt_Ipopt","opt_fmincon/opt_pfmincon","opt_sCasADi/opt_mCasADi","opt_Gekko","sim_DAE"], "range": ["#000000","#0000ff","#1e9b37","#d95319","#ff00ff"]}, "legend": {"title": null}}}},
        {"data": {"name": "mC"}, "transform": [{"filter": "datum.s === 'opt_sCasADi/opt_mCasADi'"}],
         "mark": {"type": "point", "shape": "square", "filled": true, "size": 85, "opacity": 1},
         "encoding": {
           "x": {"field": "t", "type": "quantitative", "axis": null},
           "y": {"field": "v", "type": "quantitative", "axis": null},
           "fill": {"field": "s", "type": "nominal", "scale": {"domain": ["opt_Ipopt","opt_fmincon/opt_pfmincon","opt_sCasADi/opt_mCasADi","opt_Gekko","sim_DAE"], "range": ["#000000","#0000ff","#1e9b37","#d95319","#ff00ff"]}, "legend": {"title": null}}}},
        {"data": {"name": "mC"}, "transform": [{"filter": "datum.s === 'opt_Gekko'"}],
         "mark": {"type": "point", "shape": "circle", "filled": true, "size": 105, "opacity": 1},
         "encoding": {
           "x": {"field": "t", "type": "quantitative", "axis": null},
           "y": {"field": "v", "type": "quantitative", "axis": null},
           "fill": {"field": "s", "type": "nominal", "scale": {"domain": ["opt_Ipopt","opt_fmincon/opt_pfmincon","opt_sCasADi/opt_mCasADi","opt_Gekko","sim_DAE"], "range": ["#000000","#0000ff","#1e9b37","#d95319","#ff00ff"]}, "legend": {"title": null}}}},
        {"data": {"name": "mC"}, "transform": [{"filter": "datum.s === 'sim_DAE'"}],
         "mark": {"type": "point", "shape": "M0,-1L0.72,0L0,1L-0.72,0Z", "filled": true, "size": 150, "opacity": 1},
         "encoding": {
           "x": {"field": "t", "type": "quantitative", "axis": null},
           "y": {"field": "v", "type": "quantitative", "axis": null},
           "fill": {"field": "s", "type": "nominal", "scale": {"domain": ["opt_Ipopt","opt_fmincon/opt_pfmincon","opt_sCasADi/opt_mCasADi","opt_Gekko","sim_DAE"], "range": ["#000000","#0000ff","#1e9b37","#d95319","#ff00ff"]}, "legend": {"title": null}}}},
        {"data": {"values": [{"label": "(C)", "t": 1.46, "v": 0.947}]},
         "mark": {"type": "text", "font": "Liberation Sans", "fontSize": 23, "fontWeight": "bold", "color": "#000000", "align": "center", "baseline": "middle"},
         "encoding": {
           "x": {"field": "t", "type": "quantitative", "axis": null},
           "y": {"field": "v", "type": "quantitative", "axis": null},
           "text": {"field": "label"}}}
      ]
    }
  ]
}
